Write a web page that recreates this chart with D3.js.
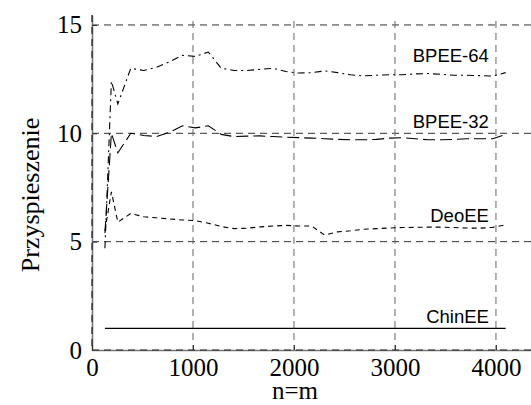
<!DOCTYPE html>
<html>
<head>
<meta charset="utf-8">
<script src="https://cdn.jsdelivr.net/npm/d3@7"></script>
<style>
  body { margin: 0; background: #fff; }
  svg { display: block; }
</style>
</head>
<body>
<svg id="chart" width="531" height="405"></svg>
<script>
// values
let nVals = [128, 192, 256, 384, 512, 640, 768, 896, 1024, 1152, 1280, 1408, 1536, 1664, 1792, 1920, 2048,
  2176, 2304, 2432, 2560, 2688, 2816, 2944, 3072, 3200, 3328, 3456, 3584, 3712, 3840, 3968, 4096]
let bpee64 = [4.7, 12.4, 11.35, 13.0, 12.9, 13.05, 13.3, 13.6, 13.55, 13.75, 13.0, 12.9, 12.9, 12.95, 13.0, 12.85, 12.78,
  12.8, 12.88, 12.8, 12.7, 12.65, 12.68, 12.7, 12.7, 12.74, 12.76, 12.72, 12.68, 12.68, 12.66, 12.64, 12.8]
let bpee32 = [5.4, 10.0, 9.1, 10.0, 9.9, 9.85, 10.05, 10.35, 10.25, 10.35, 9.95, 9.85, 9.87, 9.88, 9.85, 9.82, 9.8,
  9.78, 9.75, 9.72, 9.7, 9.7, 9.72, 9.78, 9.8, 9.75, 9.7, 9.7, 9.72, 9.75, 9.75, 9.75, 9.95]
let deoee = [5.5, 7.3, 5.9, 6.3, 6.15, 6.1, 6.05, 6.0, 5.97, 5.85, 5.7, 5.6, 5.62, 5.68, 5.72, 5.75, 5.72,
  5.72, 5.3, 5.45, 5.5, 5.57, 5.6, 5.63, 5.65, 5.66, 5.67, 5.67, 5.65, 5.63, 5.62, 5.66, 5.78]
let chinee = nVals.map(() => 1.0)

let seriesNames = ["BPEE-64", "BPEE-32", "DeoEE", "ChinEE"]
let seriesVals = [bpee64, bpee32, deoee, chinee]
let labelVals = [13.3, 10.24, 5.9, 1.25]
let dashes = ["7,4,2,4", "12,5", "5,4", null]

let xTicks = [0, 1000, 2000, 3000, 4000]
let yTicks = [0, 5, 10, 15]

let svg = d3.select("#chart")
let plotLeft = 92, plotRight = 531, plotTop = 15, plotBottom = 350

let xScale = d3.scaleLinear().domain([0, 4347]).range([plotLeft, plotRight])
let yScale = d3.scaleLinear().domain([0, 15.46]).range([plotBottom, plotTop])

// grid
svg.append("g")
  .selectAll("line")
  .data(yTicks.filter(d => d > 0))
  .join("line")
  .attr("x1", plotLeft).attr("x2", plotRight)
  .attr("y1", d => yScale(d)).attr("y2", d => yScale(d))
  .attr("stroke", "#333").attr("stroke-width", 1)
  .attr("stroke-dasharray", "7,5")

svg.append("g")
  .selectAll("line")
  .data(xTicks.filter(d => d > 0))
  .join("line")
  .attr("x1", d => xScale(d)).attr("x2", d => xScale(d))
  .attr("y1", plotTop + 6).attr("y2", plotBottom)
  .attr("stroke", "#666").attr("stroke-width", 1)
  .attr("stroke-dasharray", "7,5")

// axes
let yAxis = d3.axisLeft(yScale).tickValues(yTicks).tickFormat(d3.format("d"))
  .tickSizeInner(-5).tickSizeOuter(0).tickPadding(10)
let yAxisGroup = svg.append("g")
  .attr("transform", `translate(${plotLeft},0)`)
  .call(yAxis)

let xAxis = d3.axisBottom(xScale).tickValues(xTicks).tickFormat(d3.format("d"))
  .tickSizeInner(-5).tickSizeOuter(0).tickPadding(9)
let xAxisGroup = svg.append("g")
  .attr("transform", `translate(0,${plotBottom})`)
  .call(xAxis)

for (let g of [yAxisGroup, xAxisGroup]) {
  g.select(".domain").attr("stroke", "#777").attr("stroke-width", 1.6)
  g.selectAll(".tick line").attr("stroke", "#333")
  g.selectAll(".tick text")
    .attr("fill", "#000")
    .style("font-family", "'Liberation Serif', serif")
    .style("font-size", "25px")
}
xAxisGroup.selectAll(".tick text").attr("dy", "0.68em")

// dashed overlay on the axis lines
svg.append("line")
  .attr("x1", plotLeft).attr("x2", plotLeft).attr("y1", plotTop).attr("y2", plotBottom)
  .attr("stroke", "#222").attr("stroke-width", 1.2).attr("stroke-dasharray", "7,5")
svg.append("line")
  .attr("x1", plotLeft).attr("x2", plotRight).attr("y1", plotBottom).attr("y2", plotBottom)
  .attr("stroke", "#222").attr("stroke-width", 1.2).attr("stroke-dasharray", "7,5")

// series
let line = d3.line()
  .x((d, i) => xScale(nVals[i]))
  .y(d => yScale(d))

svg.append("g")
  .selectAll("path")
  .data(seriesVals)
  .join("path")
  .attr("d", d => line(d))
  .attr("fill", "none")
  .attr("stroke", "#000")
  .attr("stroke-width", 1.1)
  .attr("stroke-dasharray", (d, i) => dashes[i])

svg.append("g")
  .selectAll("text")
  .data(seriesNames)
  .join("text")
  .attr("x", xScale(3930))
  .attr("y", (d, i) => yScale(labelVals[i]))
  .attr("text-anchor", "end")
  .style("font-family", "'Liberation Sans', Arial, sans-serif")
  .style("font-size", "18.5px")
  .text(d => d)

// axis titles
svg.append("text")
  .attr("transform", "translate(39,195) rotate(-90)")
  .attr("text-anchor", "middle")
  .style("font-family", "'Liberation Serif', serif")
  .style("font-size", "26px")
  .text("Przyspieszenie")

svg.append("text")
  .attr("x", 295)
  .attr("y", 399)
  .attr("text-anchor", "middle")
  .style("font-family", "'Liberation Serif', serif")
  .style("font-size", "25px")
  .text("n=m")
</script>
</body>
</html>
